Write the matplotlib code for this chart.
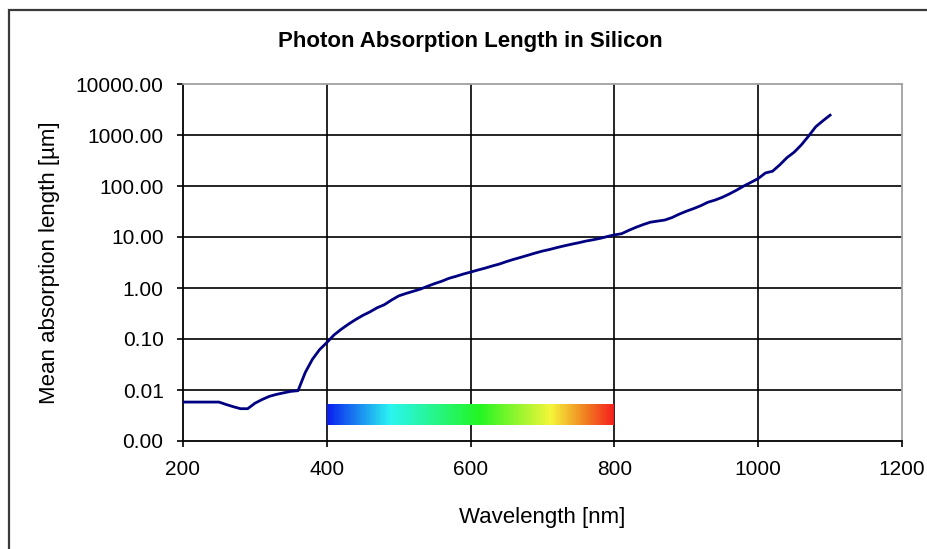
import numpy as np
import matplotlib.pyplot as plt
from matplotlib.colors import LinearSegmentedColormap
from matplotlib.patches import Rectangle
from matplotlib.ticker import FixedLocator, FormatStrFormatter, NullLocator

plt.rcParams['font.family'] = ['Liberation Sans', 'DejaVu Sans']

# absorption length of silicon vs wavelength
wavelength_nm = [200, 210, 220, 230, 240, 250, 260, 270, 280, 290,
                 300, 310, 320, 330, 340, 350, 360, 370, 380, 390,
                 400, 410, 420, 430, 440, 450, 460, 470, 480, 490,
                 500, 510, 520, 530, 540, 550, 560, 570, 580, 590,
                 600, 610, 620, 630, 640, 650, 660, 670, 680, 690,
                 700, 710, 720, 730, 740, 750, 760, 770, 780, 790,
                 800, 810, 820, 830, 840, 850, 860, 870, 880, 890,
                 900, 910, 920, 930, 940, 950, 960, 970, 980, 990,
                 1000, 1010, 1020, 1030, 1040, 1050, 1060, 1070, 1080, 1090,
                 1100]
absorption_um = [0.0058, 0.0058, 0.0058, 0.0058, 0.0058, 0.0058, 0.0052, 0.0047, 0.0043, 0.0043,
                 0.0055, 0.0065, 0.0075, 0.0082, 0.0088, 0.0094, 0.0097, 0.022, 0.040, 0.062,
                 0.085, 0.12, 0.155, 0.195, 0.24, 0.29, 0.34, 0.41, 0.47, 0.58,
                 0.70, 0.78, 0.86, 0.95, 1.08, 1.22, 1.36, 1.55, 1.70, 1.88,
                 2.05, 2.25, 2.45, 2.70, 2.95, 3.3, 3.65, 4.0, 4.4, 4.85,
                 5.3, 5.7, 6.2, 6.7, 7.2, 7.7, 8.3, 8.8, 9.4, 10.2,
                 11.0, 11.6, 13.5, 15.5, 17.5, 19.5, 20.5, 21.5, 24.0, 28.0,
                 32.0, 36.0, 41.0, 48.0, 53.0, 60.0, 70.0, 83.0, 100.0, 118.0,
                 140.0, 180.0, 195.0, 260.0, 360.0, 460.0, 640.0, 950.0, 1450.0, 1900.0,
                 2450.0]

# visible band shown as a colour strip
band_nm = [400, 800]
band_um = [0.00206, 0.0053]
band_stops = [0.0, 0.22, 0.53, 0.78, 0.9, 1.0]
band_colors = ['#0a1ef0', '#2af5f0', '#22f522', '#f5f53a', '#f08020', '#f51e1e']

x_ticks = [200, 400, 600, 800, 1000, 1200]
y_ticks = [0.001, 0.01, 0.1, 1, 10, 100, 1000, 10000]

fig = plt.figure(figsize=(9.27, 5.49), dpi=100)
fig.patch.set_facecolor('white')
W, H = 927, 549
ax = fig.add_axes([183 / W, (H - 441) / H, (902 - 183) / W, (441 - 84) / H])

ax.set_yscale('log')
ax.set_xlim(200, 1200)
ax.set_ylim(0.001, 10000)

# grid
for v in [400, 600, 800, 1000]:
    ax.axvline(v, color='black', lw=1.2, zorder=1)
for v in [0.01, 0.1, 1, 10, 100, 1000]:
    ax.axhline(v, color='black', lw=1.2, zorder=1)

# colour strip
spectrum = LinearSegmentedColormap.from_list('spectrum', list(zip(band_stops, band_colors)))
bx = np.linspace(band_nm[0], band_nm[1], 201)
ax.pcolormesh(bx, band_um, ((bx[:-1] + bx[1:]) / 2)[None, :], cmap=spectrum,
              vmin=band_nm[0], vmax=band_nm[1], shading='flat', zorder=2)

ax.plot(wavelength_nm, absorption_um, color='#000080', lw=2.0, zorder=3,
        solid_joinstyle='round')

ax.xaxis.set_major_locator(FixedLocator(x_ticks))
ax.yaxis.set_major_locator(FixedLocator(y_ticks))
ax.yaxis.set_minor_locator(NullLocator())
ax.yaxis.set_major_formatter(FormatStrFormatter('%.2f'))
ax.tick_params(axis='both', direction='out', length=4.5, width=1.2, color='black',
               labelsize=15, pad=9.5)

for s in ['left', 'bottom']:
    ax.spines[s].set_color('black')
    ax.spines[s].set_linewidth(1.3)
for s in ['top', 'right']:
    ax.spines[s].set_color('#a0a0a0')
    ax.spines[s].set_linewidth(1.3)

ax.set_xlabel('Wavelength [nm]', fontsize=16)
ax.set_ylabel('Mean absorption length [µm]', fontsize=16)
ax.xaxis.set_label_coords(0.5, (441 - 517) / 357, transform=ax.transAxes)
ax.yaxis.set_label_coords((50 - 183) / 719, 0.5, transform=ax.transAxes)
ax.xaxis.label.set_va('center')
ax.yaxis.label.set_va('center')

fig.text(470 / W, 1 - 42 / H, 'Photon Absorption Length in Silicon',
         ha='center', va='center', fontsize=16, fontweight='bold')

# chart frame
fig.patches.append(Rectangle((9 / W, -0.2), 1.2, 1.2 - 10 / H + 0.0, transform=fig.transFigure,
                             fill=False, edgecolor='#3a3a3a', lw=1.6, clip_on=True))

fig.savefig('out.png', dpi=100, facecolor='white')
